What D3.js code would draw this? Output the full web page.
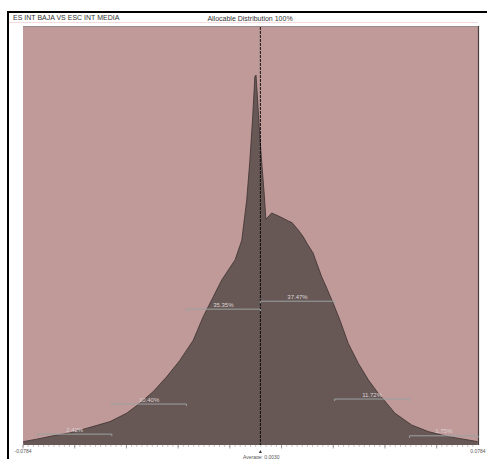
<!DOCTYPE html>
<html>
<head>
<meta charset="utf-8">
<script src="https://cdn.jsdelivr.net/npm/d3@7"></script>
<style>
  body { margin: 0; background: #fff; }
  text { font-family: "Liberation Sans Narrow", "Liberation Sans", Arial, sans-serif; }
</style>
</head>
<body>
<div class="chart"></div>
<script>
// distribution outline (x = return, y = relative frequency, 0..100)
const dist_x = [-0.0783, -0.0737, -0.0680, -0.0622, -0.0564, -0.0484, -0.0427, -0.0381, -0.0335, -0.0289,
  -0.0243, -0.0197, -0.0163, -0.0128, -0.0099, -0.0053, -0.0030, -0.0013, -0.0002, 0.0007,
  0.0015, 0.0019, 0.0023, 0.0030, 0.0038, 0.0047, 0.0053, 0.0073, 0.0102, 0.0130,
  0.0143, 0.0165, 0.0182, 0.0194, 0.0216, 0.0222, 0.0245, 0.0263, 0.0285, 0.0308,
  0.0337, 0.0372, 0.0406, 0.0440, 0.0498, 0.0555, 0.0613, 0.0682, 0.0751, 0.0783];
const dist_y = [0.8, 1.4, 2.2, 2.9, 4.0, 5.6, 7.6, 10.0, 12.8, 16.3,
  20.3, 25.1, 30.7, 35.5, 39.5, 44.3, 49.0, 58.6, 68.2, 77.8,
  88.1, 88.5, 84.2, 76.2, 68.2, 60.3, 54.0, 55.5, 54.6, 53.6,
  53.2, 51.4, 49.8, 48.3, 45.9, 44.7, 40.3, 37.5, 33.9, 29.9,
  24.3, 19.5, 15.6, 12.4, 7.6, 4.8, 3.2, 2.0, 1.2, 0.8];

// sigma bands
const band_start = [-0.0734, -0.0478, -0.0221, 0.0034, 0.0290, 0.0548];
const band_end = [-0.0478, -0.0221, 0.0034, 0.0290, 0.0548, 0.0784];
const band_level = [2.6, 9.8, 32.5, 34.4, 11.0, 2.2];
const band_label = ['2.42%', '10.40%', '35.35%', '37.47%', '11.72%', '1.75%'];

const x_min = -0.0784, x_max = 0.0784;
const mean_value = 0.0034;
const axis_labels = ['-0.0784', '0.0784'];
const mean_label = 'Average: 0.0030';
const title_left = 'ES INT BAJA VS ESC INT MEDIA';
const title_center = 'Allocable Distribution 100%';

const svg_width = 487, svg_height = 459;
const plot = {left: 23, right: 478, top: 27, bottom: 445};

const svg = d3.select('.chart').append('svg')
  .attr('width', svg_width).attr('height', svg_height);

const x_scale = d3.scaleLinear([x_min, x_max], [plot.left, plot.right]);
const y_scale = d3.scaleLinear([0, 100], [plot.bottom, plot.top]);

// frame
svg.append('line').attr('x1', 8).attr('x2', svg_width).attr('y1', 12).attr('y2', 12)
  .attr('stroke', '#000').attr('stroke-width', 2);
svg.append('line').attr('x1', 8).attr('x2', 8).attr('y1', 11).attr('y2', svg_height)
  .attr('stroke', '#000').attr('stroke-width', 2);
svg.append('line').attr('x1', 9).attr('x2', 478).attr('y1', 22.5).attr('y2', 22.5)
  .attr('stroke', '#f6d9dc').attr('stroke-width', 1.2);

svg.append('text').attr('x', 13).attr('y', 20).style('font-size', '7px').attr('fill', '#333')
  .text(title_left);
svg.append('text').attr('x', 250).attr('y', 20.5).attr('text-anchor', 'middle')
  .style('font-size', '7px').attr('fill', '#333').text(title_center);

// plot background
svg.append('rect')
  .attr('x', plot.left).attr('y', plot.top)
  .attr('width', plot.right - plot.left).attr('height', plot.bottom - plot.top)
  .attr('fill', '#bf9a99');
svg.append('line').attr('x1', plot.left).attr('x2', plot.right).attr('y1', plot.top - 0.5).attr('y2', plot.top - 0.5)
  .attr('stroke', '#9a8a8a').attr('stroke-width', 1);
svg.append('line').attr('x1', plot.right + 0.5).attr('x2', plot.right + 0.5).attr('y1', plot.top - 1).attr('y2', plot.bottom)
  .attr('stroke', '#4a3e3d').attr('stroke-width', 1.2);

// area
const pts = dist_x.map((d, i) => ({x: d, y: dist_y[i]}));
const area = d3.area().x(d => x_scale(d.x)).y0(y_scale(0)).y1(d => y_scale(d.y));
const line = d3.line().x(d => x_scale(d.x)).y(d => y_scale(d.y));
svg.append('path').datum(pts).attr('d', area).attr('fill', '#675856');
svg.append('path').datum(pts).attr('d', line)
  .attr('fill', 'none').attr('stroke', '#3b302f').attr('stroke-width', 0.8);

// mean line
svg.append('line')
  .attr('x1', x_scale(mean_value)).attr('x2', x_scale(mean_value))
  .attr('y1', plot.top).attr('y2', plot.bottom)
  .attr('stroke', '#000').attr('stroke-width', 0.9).attr('stroke-dasharray', '3,1');

// bands
const bands = svg.append('g').attr('class', 'bands');
band_label.forEach((lab, i) => {
  const x0 = x_scale(band_start[i]), x1 = x_scale(band_end[i]), y = y_scale(band_level[i]);
  bands.append('line').attr('x1', x0).attr('x2', x1).attr('y1', y).attr('y2', y)
    .attr('stroke', '#9aa2a2').attr('stroke-width', 1);
  [x0, x1].forEach(xx => bands.append('line').attr('x1', xx).attr('x2', xx)
    .attr('y1', y).attr('y2', y + 2).attr('stroke', '#9aa2a2').attr('stroke-width', 1));
  bands.append('text').attr('x', (x0 + x1) / 2).attr('y', y - 2.5)
    .attr('text-anchor', 'middle').style('font-size', '6px').attr('fill', '#dcd4d4')
    .text(lab);
});

// axis ticks
const tick_step = 0.01782;
const major = d3.range(0, 9).map(k => x_min + k * tick_step);
const minor = d3.range(0, 89).map(k => x_min + k * tick_step / 10).filter(v => v <= x_max);
const axis = svg.append('g').attr('class', 'x axis');
axis.selectAll('.minor').data(minor).join('line').attr('class', 'minor')
  .attr('x1', d => x_scale(d)).attr('x2', d => x_scale(d))
  .attr('y1', plot.bottom).attr('y2', plot.bottom + 2)
  .attr('stroke', '#aaa').attr('stroke-width', 0.7);
axis.selectAll('.major').data(major).join('line').attr('class', 'major')
  .attr('x1', d => x_scale(d)).attr('x2', d => x_scale(d))
  .attr('y1', plot.bottom).attr('y2', plot.bottom + 3.5)
  .attr('stroke', '#888').attr('stroke-width', 0.8);
axis.append('text').attr('x', x_scale(x_min)).attr('y', 453).attr('text-anchor', 'middle')
  .style('font-size', '5px').attr('fill', '#555').text(axis_labels[0]);
axis.append('text').attr('x', x_scale(x_max)).attr('y', 453).attr('text-anchor', 'middle')
  .style('font-size', '5px').attr('fill', '#555').text(axis_labels[1]);

// mean marker
const mx = x_scale(mean_value);
svg.append('path').attr('d', `M${mx},450 L${mx - 1.5},453 L${mx + 1.5},453 Z`).attr('fill', '#333');
svg.append('text').attr('x', mx + 1).attr('y', 458.5).attr('text-anchor', 'middle')
  .style('font-size', '5px').attr('fill', '#555').text(mean_label);
</script>
</body>
</html>
